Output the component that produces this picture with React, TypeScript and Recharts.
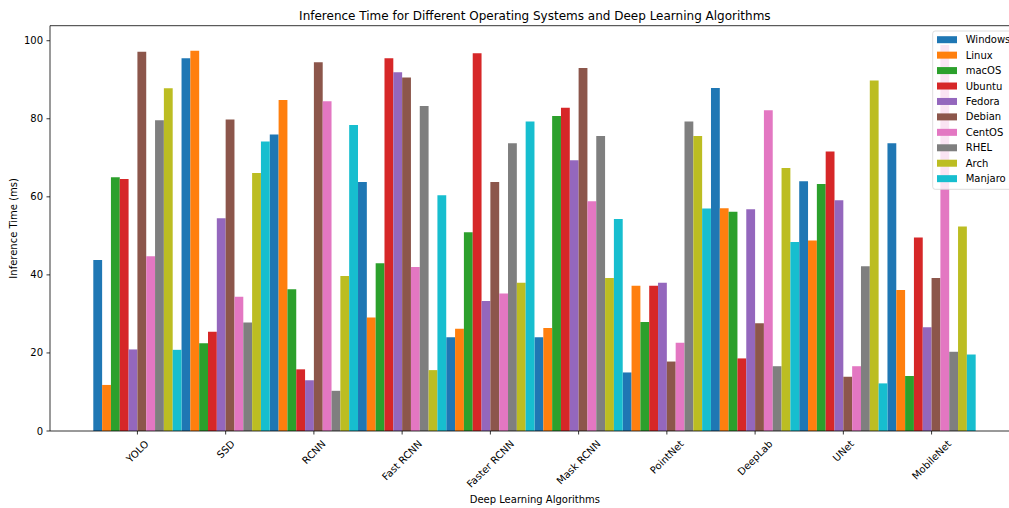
import React from 'react';
import { BarChart, Bar, XAxis, YAxis, ReferenceLine } from 'recharts';

const categories = ['YOLO', 'SSD', 'RCNN', 'Fast RCNN', 'Faster RCNN', 'Mask RCNN', 'PointNet', 'DeepLab', 'UNet', 'MobileNet'];
const seriesNames = ['Windows', 'Linux', 'macOS', 'Ubuntu', 'Fedora', 'Debian', 'CentOS', 'RHEL', 'Arch', 'Manjaro'];
const seriesColors = ['#1f77b4', '#ff7f0e', '#2ca02c', '#d62728', '#9467bd', '#8c564b', '#e377c2', '#7f7f7f', '#bcbd22', '#17becf'];

const windows = [43.8, 95.5, 76.0, 63.8, 24.0, 24.0, 15.0, 87.9, 64.0, 73.7];
const linux = [11.8, 97.4, 84.8, 29.1, 26.2, 26.4, 37.2, 57.1, 48.8, 36.1];
const macos = [65.0, 22.5, 36.3, 43.0, 50.9, 80.7, 27.9, 56.2, 63.3, 14.1];
const ubuntu = [64.6, 25.4, 15.8, 95.5, 96.8, 82.8, 37.2, 18.6, 71.6, 49.6];
const fedora = [20.9, 54.5, 13.0, 91.9, 33.3, 69.4, 38.0, 56.8, 59.1, 26.6];
const debian = [97.2, 79.8, 94.5, 90.6, 63.8, 93.0, 17.8, 27.6, 13.9, 39.2];
const centos = [44.8, 34.4, 84.5, 42.0, 35.2, 58.9, 22.6, 82.2, 16.6, 98.9];
const rhel = [79.6, 27.8, 10.3, 83.3, 73.7, 75.6, 79.3, 16.6, 42.2, 20.3];
const arch = [87.8, 66.1, 39.7, 15.6, 38.0, 39.2, 75.6, 67.4, 89.8, 52.4];
const manjaro = [20.8, 74.2, 78.4, 60.4, 79.3, 54.3, 57.0, 48.4, 12.2, 19.6];

const yTicks = [0, 20, 40, 60, 80, 100];
const Y_MAX = 103.85;

const seriesValues = [windows, linux, macos, ubuntu, fedora, debian, centos, rhel, arch, manjaro];

const data = categories.map((c, i) => {
  const row: Record<string, string | number> = { name: c };
  seriesNames.forEach((s, j) => {
    row[s] = seriesValues[j][i];
  });
  return row;
});

const FONT = '"DejaVu Sans", sans-serif';
const CHART_W = 1040;
const CHART_H = 508;
const PLOT_LEFT = 50;
const PLOT_RIGHT = 1019.7;
const PLOT_TOP = 25.7;
const PLOT_BOTTOM = 431;
const PAD_L = 43.3;
const PAD_R = 44;
const BAND = (PLOT_RIGHT - PLOT_LEFT - PAD_L - PAD_R) / categories.length;
const BAR_SIZE = BAND / seriesNames.length - 0.002;

let measureCtx: CanvasRenderingContext2D | null = null;
function measure(t: string): number {
  if (!measureCtx) {
    measureCtx = document.createElement('canvas').getContext('2d');
  }
  if (!measureCtx) return t.length * 6;
  measureCtx.font = '10px "DejaVu Sans"';
  return measureCtx.measureText(t).width;
}

const XTick = (props: any) => {
  const { x, payload } = props;
  const label = String(payload.value);
  const w = measure(label);
  const h = 11.6;
  const W = (w + h) * Math.SQRT1_2;
  const cy = PLOT_BOTTOM + 7 + W / 2;
  return (
    <text
      x={x}
      y={cy}
      transform={`rotate(-45 ${x} ${cy})`}
      textAnchor="middle"
      dominantBaseline="central"
      fontSize={10}
      fontFamily={FONT}
      fill="#000"
    >
      {label}
    </text>
  );
};

const legendTop = 31;
const legendRowH = 15.44;

export default function App() {
  return (
    <div
      style={{
        position: 'fixed',
        left: 0,
        top: 0,
        width: 1009,
        height: 508,
        overflow: 'hidden',
        background: '#fff',
      }}
    >
      <div style={{ position: 'absolute', left: 0, top: 0 }}>
        <BarChart
          width={CHART_W}
          height={CHART_H}
          data={data}
          margin={{ top: PLOT_TOP, right: CHART_W - PLOT_RIGHT, bottom: 0, left: 0 }}
          barGap={0}
          barCategoryGap={0}
        >
          <XAxis
            dataKey="name"
            height={CHART_H - PLOT_BOTTOM}
            padding={{ left: PAD_L, right: PAD_R }}
            tick={<XTick />}
            tickSize={3.5}
            tickMargin={3.5}
            interval={0}
            axisLine={{ stroke: '#000', strokeWidth: 0.8 }}
            tickLine={{ stroke: '#000', strokeWidth: 0.8 }}
          />
          <YAxis
            width={PLOT_LEFT}
            domain={[0, Y_MAX]}
            ticks={yTicks}
            tickSize={3.5}
            tickMargin={3.5}
            tick={{ fontSize: 10, fontFamily: FONT, fill: '#000' }}
            axisLine={{ stroke: '#000', strokeWidth: 0.8 }}
            tickLine={{ stroke: '#000', strokeWidth: 0.8 }}
          />
          <ReferenceLine y={Y_MAX} stroke="#000" strokeWidth={0.8} />
          {seriesNames.map((s, j) => (
            <Bar key={s} dataKey={s} fill={seriesColors[j]} barSize={BAR_SIZE} isAnimationActive={false} />
          ))}
        </BarChart>
      </div>
      <svg
        width={CHART_W}
        height={CHART_H}
        style={{ position: 'absolute', left: 0, top: 0, pointerEvents: 'none' }}
      >
        <text
          x={(PLOT_LEFT + PLOT_RIGHT) / 2}
          y={PLOT_TOP - 6}
          textAnchor="middle"
          fontSize={12}
          fontFamily={FONT}
          fill="#000"
        >
          Inference Time for Different Operating Systems and Deep Learning Algorithms
        </text>
        <text
          x={(PLOT_LEFT + PLOT_RIGHT) / 2}
          y={503}
          textAnchor="middle"
          fontSize={10}
          fontFamily={FONT}
          fill="#000"
        >
          Deep Learning Algorithms
        </text>
        <text
          x={17.5}
          y={(PLOT_TOP + PLOT_BOTTOM) / 2}
          transform={`rotate(-90 17.5 ${(PLOT_TOP + PLOT_BOTTOM) / 2})`}
          textAnchor="middle"
          fontSize={10}
          fontFamily={FONT}
          fill="#000"
        >
          Inference Time (ms)
        </text>
        <rect
          x={932.7}
          y={legendTop}
          width={95}
          height={158.3}
          rx={2.5}
          ry={2.5}
          fill="rgba(255,255,255,0.8)"
          stroke="#d4d4d4"
          strokeWidth={0.8}
        />
        {seriesNames.map((s, j) => {
          const cy = legendTop + 8.7 + j * legendRowH;
          return (
            <g key={s}>
              <rect x={937} y={cy - 3.5} width={20} height={7} fill={seriesColors[j]} />
              <text x={965.7} y={cy} dominantBaseline="central" fontSize={10} fontFamily={FONT} fill="#000">
                {s}
              </text>
            </g>
          );
        })}
      </svg>
    </div>
  );
}
